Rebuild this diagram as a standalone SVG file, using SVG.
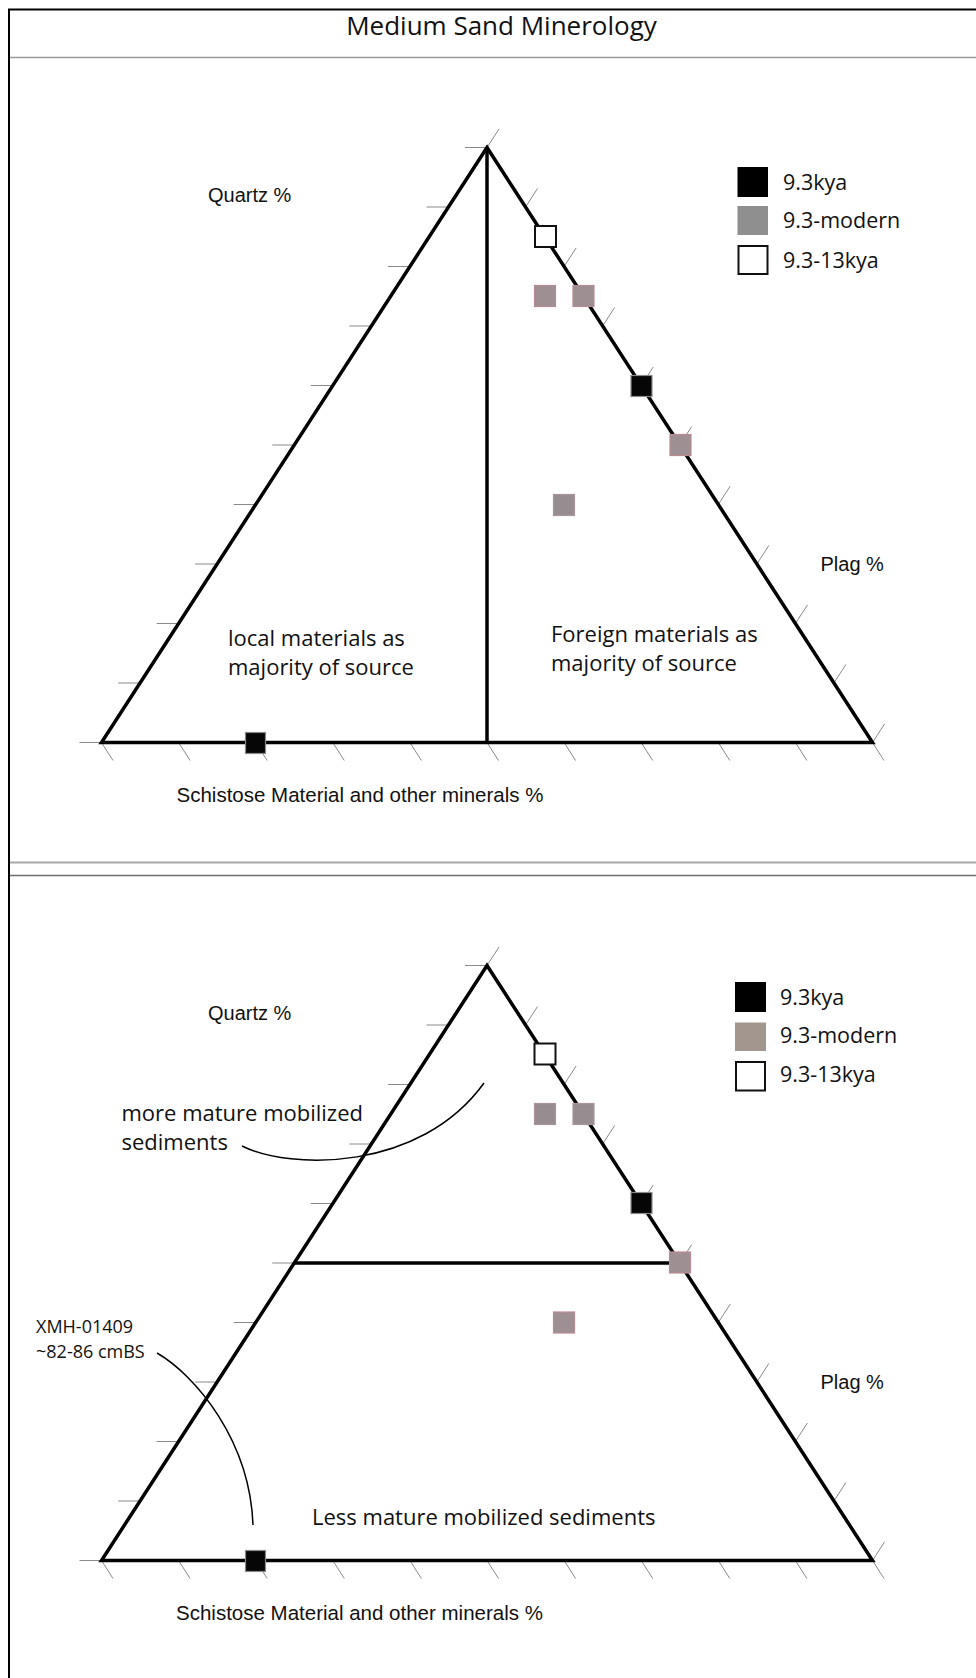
<svg xmlns="http://www.w3.org/2000/svg" xmlns:xlink="http://www.w3.org/1999/xlink" width="976" height="1678" viewBox="0 0 976 1678">
  <style>
    .frame { stroke: #000; stroke-width: 2; fill: none; }
    .sep1 { stroke: #9a9a9a; stroke-width: 1.5; fill: none; }
    .sep2 { stroke: #a8a8a8; stroke-width: 2; fill: none; }
    .sep3 { stroke: #6e6e6e; stroke-width: 1.5; fill: none; }
    .axis { stroke: #000; stroke-width: 3.5; fill: none; stroke-linejoin: miter; }
    .tick { stroke: #8a8a8a; stroke-width: 1; fill: none; }
    .lead { stroke: #000; stroke-width: 1.5; fill: none; }
    .m-black { fill: #060606; stroke: #8a8a8a; stroke-width: 1.2; }
    .m-white { fill: #fff; stroke: #111; stroke-width: 2; }
    .m-gray { fill: #9e8f92; stroke: #b98c95; stroke-width: 1.2; }
    .m-gray2 { fill: #978d90; stroke: #a9959a; stroke-width: 1.2; }
    .lg-black { fill: #000; }
    .lg-gray { fill: #8f8f8f; }
    .lg-gray2 { fill: #a2968f; }
    .lg-white { fill: #fff; stroke: #111; stroke-width: 2; }
    .t-ax { font-family: "Liberation Sans", Arial, sans-serif; font-size: 20px; fill: #111; }
    .t-ax2 { font-family: "Liberation Sans", Arial, sans-serif; font-size: 20.5px; fill: #111; }
    .t-my { font-family: "Open Sans", "Noto Sans", sans-serif; font-size: 22px; fill: #111; }
    .t-lg { font-family: "Open Sans", "Noto Sans", sans-serif; font-size: 21.5px; fill: #111; }
    .t-sm { font-family: "Open Sans", "Noto Sans", sans-serif; font-size: 18px; fill: #111; }
    .t-title { font-family: "Open Sans", "Noto Sans", sans-serif; font-size: 26px; fill: #111; }
  </style>
  <defs>
    <g id="ternary">
      <path class="tick" d="M487,147.5h-22 M448.45,207h-22 M409.9,266.5h-22 M371.35,326h-22 M332.8,385.5h-22 M294.25,445h-22 M255.7,504.5h-22 M217.15,564h-22 M178.6,623.5h-22 M140.05,683h-22 M101.5,742.5h-22"/>
      <path class="tick" d="M487,147.5l12,-18.5 M525.55,207l12,-18.5 M564.1,266.5l12,-18.5 M602.65,326l12,-18.5 M641.2,385.5l12,-18.5 M679.75,445l12,-18.5 M718.3,504.5l12,-18.5 M756.85,564l12,-18.5 M795.4,623.5l12,-18.5 M833.95,683l12,-18.5 M872.5,742.5l12,-18.5"/>
      <path class="tick" d="M101.5,742.5l11.5,18 M178.6,742.5l11.5,18 M255.7,742.5l11.5,18 M332.8,742.5l11.5,18 M409.9,742.5l11.5,18 M487,742.5l11.5,18 M564.1,742.5l11.5,18 M641.2,742.5l11.5,18 M718.3,742.5l11.5,18 M795.4,742.5l11.5,18 M872.5,742.5l11.5,18"/>
      <path class="axis" d="M487,147.5 L872.5,742.5 L101.5,742.5 Z"/>
    </g>
  </defs>

  <g id="frame">
    <path class="frame" d="M9,1678 V9.5 H976"/>
    <path class="sep1" d="M10,57.5 H976"/>
    <path class="sep2" d="M10,862.5 H976"/>
    <path class="sep3" d="M10,875.5 H976"/>
  </g>

  <g id="title">
    <text class="t-title" x="501.5" y="34.5" text-anchor="middle">Medium Sand Minerology</text>
  </g>

  <!-- Top panel -->
  <g id="top-panel">
    <g id="top-triangle">
      <use xlink:href="#ternary"/>
      <path class="axis" d="M487,147.5 V742.5"/>
    </g>
    <g id="top-labels">
      <text class="t-ax" x="208" y="201.5">Quartz %</text>
      <text class="t-ax" x="820.5" y="570.5">Plag %</text>
      <text class="t-ax2" x="176.5" y="801.7">Schistose Material and other minerals %</text>
      <text class="t-my" x="228" y="646">local materials as</text>
      <text class="t-my" x="228" y="675">majority of source</text>
      <text class="t-my" x="551" y="641.5">Foreign materials as</text>
      <text class="t-my" x="551" y="670.5">majority of source</text>
    </g>
    <g id="top-points">
      <rect class="m-white" x="535" y="226" width="21" height="21"/>
      <rect class="m-gray" x="534.5" y="285.5" width="21" height="21"/>
      <rect class="m-gray" x="573" y="285.5" width="21" height="21"/>
      <rect class="m-black" x="631" y="375.5" width="21" height="21"/>
      <rect class="m-gray" x="670" y="434.5" width="21" height="21"/>
      <rect class="m-gray2" x="553.5" y="494.5" width="21" height="21"/>
      <rect class="m-black" x="245.5" y="732.5" width="20" height="21"/>
    </g>
    <g id="top-legend">
      <rect class="lg-black" x="737.5" y="167" width="30.5" height="30"/>
      <rect class="lg-gray" x="737.5" y="206" width="30.5" height="29"/>
      <rect class="lg-white" x="738.5" y="246" width="29" height="28"/>
      <text class="t-lg" x="783" y="190">9.3kya</text>
      <text class="t-lg" x="783" y="228">9.3-modern</text>
      <text class="t-lg" x="783" y="268">9.3-13kya</text>
    </g>
  </g>

  <!-- Bottom panel -->
  <g id="bottom-panel">
    <g id="bottom-triangle">
      <use xlink:href="#ternary" transform="translate(0,818)"/>
      <path class="axis" d="M294.25,1263 H680"/>
    </g>
    <g id="bottom-labels">
      <text class="t-ax" x="208" y="1020">Quartz %</text>
      <text class="t-ax" x="820.5" y="1388.5">Plag %</text>
      <text class="t-ax2" x="176" y="1620">Schistose Material and other minerals %</text>
      <text class="t-my" x="121.5" y="1120.7">more mature mobilized</text>
      <text class="t-my" x="121.5" y="1150">sediments</text>
      <text class="t-sm" x="36" y="1333.3">XMH-01409</text>
      <text class="t-sm" x="36" y="1357.7">~82-86 cmBS</text>
      <text class="t-my" x="312" y="1525">Less mature mobilized sediments</text>
    </g>
    <g id="bottom-points">
      <rect class="m-white" x="534.5" y="1043.5" width="21" height="21"/>
      <rect class="m-gray2" x="534.5" y="1103.5" width="21" height="21"/>
      <rect class="m-gray2" x="573" y="1103.5" width="21" height="21"/>
      <rect class="m-black" x="631" y="1192.5" width="21" height="21"/>
      <rect class="m-gray" x="669.5" y="1252" width="21" height="21"/>
      <rect class="m-gray" x="553.5" y="1312" width="21" height="21"/>
      <rect class="m-black" x="245.5" y="1550.5" width="20" height="21"/>
    </g>
    <g id="bottom-legend">
      <rect class="lg-black" x="735" y="982" width="31" height="30"/>
      <rect class="lg-gray2" x="735" y="1022.5" width="31" height="28.5"/>
      <rect class="lg-white" x="736" y="1062" width="29" height="28.5"/>
      <text class="t-lg" x="780" y="1005">9.3kya</text>
      <text class="t-lg" x="780" y="1043.3">9.3-modern</text>
      <text class="t-lg" x="780" y="1082.3">9.3-13kya</text>
    </g>
  </g>

  <g id="connectors">
    <path class="lead" d="M242,1146 C290,1170 420,1172 484,1083"/>
    <path class="lead" d="M157,1353 C195,1375 250,1440 253,1525"/>
  </g>
</svg>
